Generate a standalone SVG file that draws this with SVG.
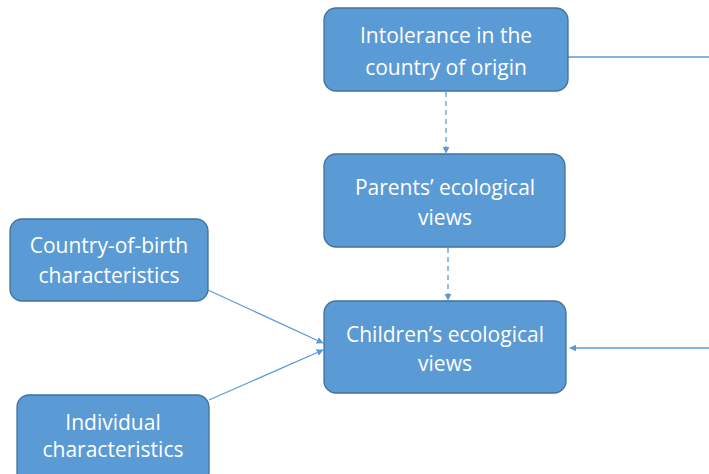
<svg xmlns="http://www.w3.org/2000/svg" width="709" height="474" viewBox="0 0 709 474">
<style>
.box{fill:#5B9BD5;stroke:#41719C;stroke-width:1.3}
.t{font-family:"Open Sans","Liberation Sans",sans-serif;font-size:21px;fill:#fff;text-anchor:middle}
.c{stroke:#5B9BD5;stroke-width:1.3;fill:none}
.d{stroke-dasharray:5,4}
</style>
<defs>
<marker id="ah" viewBox="0 0 10 10" refX="9" refY="5" markerWidth="7" markerHeight="7" orient="auto" markerUnits="userSpaceOnUse">
<path d="M0,0 L10,5 L0,10 z" fill="#5B9BD5"/>
</marker>
</defs>
<rect width="709" height="474" fill="#fff"/>
<g id="connectors">
<line class="c" x1="568" y1="57" x2="709" y2="57"/>
<line class="c d" x1="446" y1="92" x2="446" y2="153" marker-end="url(#ah)"/>
<line class="c d" x1="448" y1="248" x2="448" y2="300" marker-end="url(#ah)"/>
<line class="c" x1="208" y1="290" x2="323" y2="343" marker-end="url(#ah)"/>
<line class="c" x1="209" y1="400" x2="323" y2="350" marker-end="url(#ah)"/>
<line class="c" x1="709" y1="348" x2="570" y2="348" marker-end="url(#ah)"/>
</g>
<g id="intolerance">
<rect class="box" x="324" y="8" width="244" height="83" rx="12"/>
<text class="t" x="446" y="43">Intolerance in the</text>
<text class="t" x="446" y="75">country of origin</text>
</g>
<g id="parents">
<rect class="box" x="324" y="154" width="241" height="93" rx="12"/>
<text class="t" x="445" y="195">Parents’ ecological</text>
<text class="t" x="445" y="225">views</text>
</g>
<g id="children">
<rect class="box" x="324" y="301" width="242" height="92" rx="12"/>
<text class="t" x="445" y="342">Children’s ecological</text>
<text class="t" x="445" y="371">views</text>
</g>
<g id="country">
<rect class="box" x="10" y="219" width="198" height="82" rx="12"/>
<text class="t" x="109" y="253">Country-of-birth</text>
<text class="t" x="109" y="283">characteristics</text>
</g>
<g id="individual">
<rect class="box" x="17" y="395" width="192" height="90" rx="12"/>
<text class="t" x="113" y="430">Individual</text>
<text class="t" x="113" y="457">characteristics</text>
</g>
</svg>
